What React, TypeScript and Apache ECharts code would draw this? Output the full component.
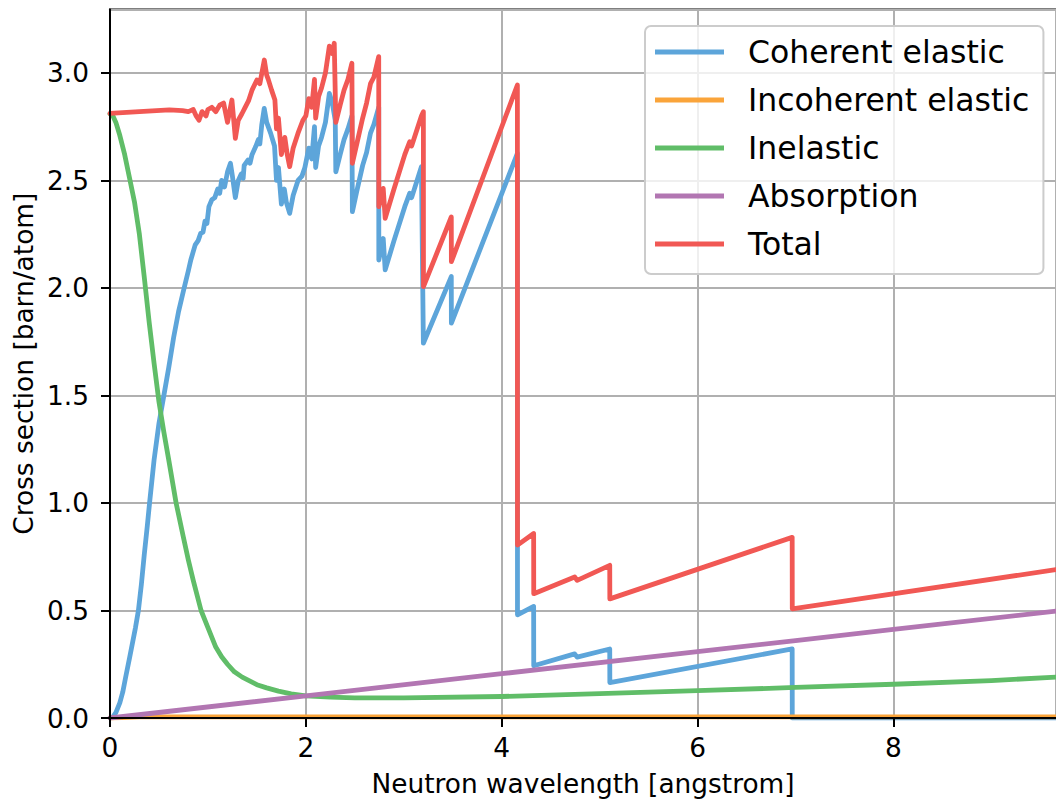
import React, { useEffect, useRef } from "react";
import * as echarts from "echarts";

const FONT = "DejaVu Sans";

const seriesNames = ["Coherent elastic", "Incoherent elastic", "Inelastic", "Absorption", "Total"];
const seriesColors = ["#5DA5DA", "#FAA43A", "#60BD68", "#B276B2", "#F15854"];

const coherentElastic: [number, number][] = [
  [0, 0], [0.03, 0.005], [0.06, 0.025], [0.1, 0.07], [0.13, 0.12], [0.16, 0.19], [0.2, 0.28],
  [0.23, 0.35], [0.26, 0.42], [0.29, 0.5], [0.32, 0.62], [0.35, 0.76], [0.38, 0.89], [0.404, 1.0],
  [0.45, 1.2], [0.5, 1.37], [0.55, 1.5], [0.6, 1.63], [0.65, 1.77],
  [0.7, 1.89], [0.757, 2.0], [0.8, 2.08], [0.825, 2.13], [0.87, 2.2], [0.9, 2.22], [0.926, 2.254],
  [0.95, 2.26], [0.97, 2.31], [0.99, 2.3], [1.01, 2.378], [1.04, 2.41], [1.07, 2.42], [1.1, 2.46],
  [1.12, 2.44], [1.14, 2.5], [1.17, 2.47], [1.2, 2.54], [1.23, 2.58], [1.25, 2.52], [1.28, 2.42],
  [1.31, 2.5], [1.34, 2.53], [1.36, 2.51], [1.37, 2.57], [1.41, 2.595], [1.43, 2.58], [1.45, 2.62],
  [1.49, 2.66], [1.515, 2.69], [1.53, 2.67], [1.55, 2.76], [1.575, 2.835],
  [1.6, 2.77], [1.64, 2.72], [1.68, 2.66], [1.7, 2.5], [1.72, 2.56], [1.75, 2.39], [1.78, 2.46],
  [1.8, 2.4], [1.835, 2.347], [1.87, 2.43], [1.92, 2.5], [1.96, 2.52], [1.99, 2.56], [2.03, 2.65],
  [2.06, 2.6], [2.088, 2.75], [2.1, 2.56], [2.13, 2.66], [2.16, 2.7], [2.2, 2.77], [2.24, 2.905],
  [2.27, 2.86], [2.3, 2.78], [2.306, 2.54], [2.35, 2.62], [2.39, 2.69], [2.43, 2.74], [2.47, 2.8],
  [2.475, 2.355], [2.52, 2.45], [2.58, 2.57], [2.62, 2.63], [2.66, 2.72], [2.694, 2.76],
  [2.744, 2.84], [2.745, 2.13], [2.79, 2.23], [2.81, 2.084], [2.9, 2.22], [3.01, 2.378],
  [3.06, 2.44], [3.08, 2.42], [3.18, 2.564], [3.2, 1.743], [3.485, 2.053], [3.486, 1.836],
  [4.16, 2.626], [4.161, 0.48], [4.326, 0.519], [4.327, 0.243], [4.745, 0.298], [4.77, 0.283],
  [5.103, 0.321], [5.104, 0.165], [6.966, 0.321], [6.967, 0], [9.66, 0],
];

const incoherentElastic: [number, number][] = [
  [0, 0], [0.3, 0.005], [2, 0.005], [5, 0.005], [9.66, 0.005],
];

const inelastic: [number, number][] = [
  [0, 2.81], [0.03, 2.8], [0.06, 2.77], [0.1, 2.71], [0.15, 2.62], [0.2, 2.51], [0.25, 2.4],
  [0.3, 2.25], [0.35, 2.05], [0.4, 1.84], [0.45, 1.65], [0.5, 1.47], [0.55, 1.33], [0.6, 1.2],
  [0.675, 1.0], [0.75, 0.84], [0.8, 0.735], [0.85, 0.64], [0.93, 0.5], [1.0, 0.42], [1.08, 0.33],
  [1.14, 0.285], [1.2, 0.25], [1.27, 0.215], [1.35, 0.19], [1.5, 0.155], [1.6, 0.14], [1.72, 0.125],
  [1.85, 0.112], [2.0, 0.103], [2.25, 0.097], [2.5, 0.094], [3.0, 0.094], [4.0, 0.1],
  [5.0, 0.113], [6.0, 0.127], [7.0, 0.142], [8.0, 0.157], [9.0, 0.174], [9.66, 0.19],
];

const absorption: [number, number][] = [
  [0, 0], [2, 0.103], [4, 0.206], [6, 0.309], [7, 0.36], [8, 0.412], [9.66, 0.4975],
];

const total: [number, number][] = [
  [0, 2.812], [0.3, 2.82], [0.606, 2.828], [0.74, 2.825], [0.8, 2.82], [0.85, 2.83], [0.88, 2.8],
  [0.909, 2.78], [0.94, 2.82], [0.98, 2.8], [1.0, 2.83], [1.04, 2.84], [1.08, 2.82], [1.12, 2.85],
  [1.16, 2.86], [1.2, 2.77], [1.245, 2.874], [1.28, 2.696], [1.31, 2.78], [1.347, 2.81],
  [1.38, 2.84], [1.414, 2.87], [1.45, 2.92], [1.5, 2.967], [1.53, 2.95], [1.576, 3.06], [1.6, 2.99],
  [1.616, 2.97], [1.65, 2.92], [1.684, 2.874], [1.7, 2.74], [1.72, 2.79], [1.75, 2.62], [1.785, 2.7],
  [1.81, 2.62], [1.835, 2.564], [1.87, 2.65], [1.92, 2.72], [1.97, 2.78], [2.0, 2.8], [2.03, 2.88],
  [2.06, 2.84], [2.088, 2.97], [2.1, 2.79], [2.13, 2.89], [2.16, 2.93], [2.2, 3.0], [2.24, 3.125],
  [2.27, 3.09], [2.29, 3.138], [2.306, 2.77], [2.35, 2.85], [2.39, 2.92], [2.43, 2.97],
  [2.47, 3.045], [2.475, 2.58], [2.52, 2.67], [2.58, 2.79], [2.62, 2.86], [2.66, 2.95],
  [2.694, 2.98], [2.744, 3.076], [2.745, 2.378], [2.79, 2.463], [2.81, 2.324], [2.9, 2.46],
  [3.01, 2.62], [3.06, 2.68], [3.08, 2.66], [3.18, 2.8], [3.2, 2.82], [3.201, 2.006],
  [3.485, 2.33], [3.486, 2.122], [4.16, 2.944], [4.161, 0.804], [4.326, 0.858], [4.327, 0.578],
  [4.745, 0.656], [4.77, 0.64], [5.103, 0.71], [5.104, 0.554], [6.966, 0.84], [6.967, 0.508],
  [9.66, 0.69],
];

const seriesData = [coherentElastic, incoherentElastic, inelastic, absorption, total];

const xTickValues = [0, 2, 4, 6, 8];
const yTickValues = [0, 0.5, 1.0, 1.5, 2.0, 2.5, 3.0];

const X_MIN = 0;
const X_MAX = 9.66;
const Y_MIN = 0;
const Y_MAX = 3.295;

export default function App() {
  const ref = useRef<HTMLDivElement>(null);

  useEffect(() => {
    const chart = echarts.init(ref.current!, null, { renderer: "svg" });
    const tickFont = { fontFamily: FONT, fontSize: 26.4, color: "#000" };
    const option: any = {
      animation: false,
      backgroundColor: "#fff",
      grid: {
        left: 110,
        right: -10,
        top: 9.5,
        bottom: 83,
        show: true,
        borderColor: "#000",
        borderWidth: 2,
        backgroundColor: "transparent",
      },
      legend: {
        show: true,
        orient: "vertical",
        left: 645,
        top: 26,
        padding: [10, 14, 14, 10],
        itemWidth: 69,
        itemHeight: 5,
        itemGap: 16,
        icon: "rect",
        backgroundColor: "rgba(255,255,255,0.8)",
        borderColor: "#cccccc",
        borderWidth: 2,
        borderRadius: 6,
        selectedMode: false,
        data: seriesNames,
        textStyle: {
          fontFamily: FONT,
          fontSize: 31.5,
          lineHeight: 31,
          color: "#000",
          padding: [0, 0, 0, 19],
        },
      },
      xAxis: [
        {
          type: "value",
          min: X_MIN,
          max: X_MAX,
          interval: 2,
          axisLine: { show: false },
          axisTick: { show: false },
          splitLine: { show: true, lineStyle: { color: "#b0b0b0", width: 2 } },
          axisLabel: {
            ...tickFont,
            margin: 16,
            customValues: xTickValues,
            formatter: (v: number) => String(Math.round(v)),
          },
          name: "Neutron wavelength [angstrom]",
          nameLocation: "middle",
          nameGap: 52,
          nameTextStyle: { ...tickFont },
        },
        {
          type: "value",
          min: X_MIN,
          max: X_MAX,
          interval: 2,
          position: "bottom",
          z: 10,
          axisLine: { show: true, onZero: false, lineStyle: { color: "#000", width: 2 } },
          axisTick: { show: true, length: 9, customValues: xTickValues, lineStyle: { color: "#000", width: 2 } },
          axisLabel: { show: false },
          splitLine: { show: false },
        },
      ],
      yAxis: [
        {
          type: "value",
          min: Y_MIN,
          max: Y_MAX,
          interval: 0.5,
          axisLine: { show: false },
          axisTick: { show: false },
          splitLine: { show: true, lineStyle: { color: "#b0b0b0", width: 2 } },
          axisLabel: {
            ...tickFont,
            margin: 21,
            customValues: yTickValues,
            formatter: (v: number) => v.toFixed(1),
          },
          name: "Cross section [barn/atom]",
          nameLocation: "middle",
          nameGap: 70,
          nameTextStyle: { ...tickFont },
        },
        {
          type: "value",
          min: Y_MIN,
          max: Y_MAX,
          interval: 0.5,
          position: "left",
          z: 10,
          axisLine: { show: true, onZero: false, lineStyle: { color: "#000", width: 2 } },
          axisTick: { show: true, length: 9, customValues: yTickValues, lineStyle: { color: "#000", width: 2 } },
          axisLabel: { show: false },
          splitLine: { show: false },
        },
      ],
      series: seriesNames.map((name, i) => ({
        name,
        type: "line",
        xAxisIndex: 0,
        yAxisIndex: 0,
        data: seriesData[i],
        showSymbol: false,
        symbol: "none",
        color: seriesColors[i],
        itemStyle: { color: seriesColors[i] },
        lineStyle: { color: seriesColors[i], width: 4.8, join: "round", cap: "round" },
        emphasis: { disabled: true },
        z: 2 + i * 0.01,
      })),
    };
    chart.setOption(option);
    return () => chart.dispose();
  }, []);

  return (
    <div
      ref={ref}
      style={{ position: "absolute", left: 0, top: 0, width: 1056, height: 801 }}
    />
  );
}
